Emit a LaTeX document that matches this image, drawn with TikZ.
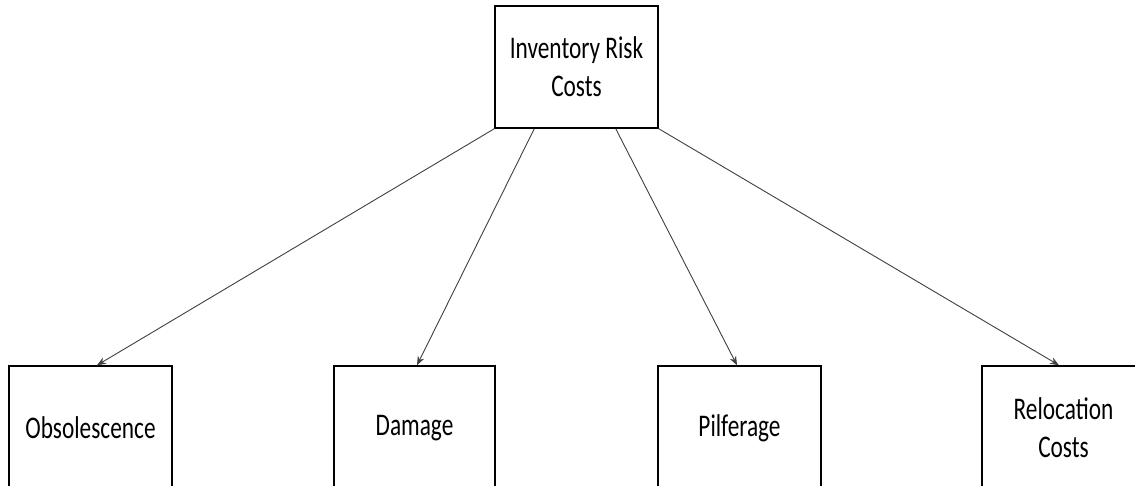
\documentclass[tikz,border=0pt]{standalone}
\usepackage{fontspec}
\setmainfont{Carlito}
\usetikzlibrary{arrows.meta}
% narrow lettering, as in the drawing
\newcommand{\nar}[1]{\scalebox{0.74}[1]{#1}}
\tikzset{
  costbox/.style={draw=black, line width=1.5pt, fill=white, minimum width=163pt,
    inner sep=0pt, align=center, font=\fontsize{31.5}{38}\selectfont},
  link/.style={draw=black!75, line width=0.9pt, -{Stealth[length=9pt,width=7pt]}}
}
\begin{document}
\begin{tikzpicture}[x=1pt, y=-1pt]
  \useasboundingbox (0,0) rectangle (1135,485);
  \fill[white] (0,0) rectangle (1135,485);
  \node[costbox, minimum height=122pt] (root) at (576.5,67) {\nar{Inventory Risk}\\\nar{Costs}};
  \node[costbox, minimum height=124pt] (obs) at (90.5,428) {\nar{Obsolescence}};
  \node[costbox, minimum height=124pt, minimum width=161pt] (dmg) at (414.5,428) {\nar{Damage}};
  \node[costbox, minimum height=124pt] (pil) at (739.5,428) {\nar{Pilferage}};
  \node[costbox, minimum height=124pt] (rel) at (1063.5,428) {\nar{Relocation}\\\nar{Costs}};
  \draw[link] (root.south west) -- ([xshift=6.5pt]obs.north);
  \draw[link] ([xshift=40pt]root.south west) -- ([xshift=2.5pt]dmg.north);
  \draw[link] ([xshift=-43pt]root.south east) -- ([xshift=-2.5pt]pil.north);
  \draw[link] (root.south east) -- ([xshift=-4.5pt]rel.north);
\end{tikzpicture}
\end{document}
